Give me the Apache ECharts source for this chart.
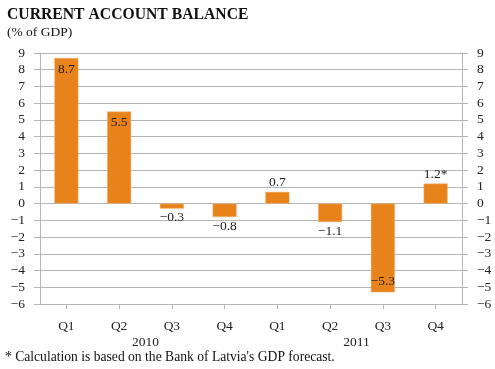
<!DOCTYPE html>
<html>
<head>
<meta charset="utf-8">
<script src="https://cdn.jsdelivr.net/npm/echarts@6/dist/echarts.min.js"></script>
<style>
  html, body { margin: 0; padding: 0; background: #fff; }
  #chart { width: 495px; height: 369px; }
</style>
</head>
<body>
<div id="chart"></div>
<script>
const quarters = ['Q1', 'Q2', 'Q3', 'Q4', 'Q1', 'Q2', 'Q3', 'Q4']
const years = ['2010', '2011']
const balance = [8.7, 5.5, -0.3, -0.8, 0.7, -1.1, -5.3, 1.2]
const labelTexts = ['8.7', '5.5', '−0.3', '−0.8', '0.7', '−1.1', '−5.3', '1.2*']
const labelInside = [true, true, false, false, false, false, true, false]

const FONT = 'Liberation Serif'
const GRID_COLOR = '#b5b5b5'
const BAR_COLOR = '#e8831c'

const chart = echarts.init(document.getElementById('chart'))

const yAxisBase = {
  type: 'value',
  min: -6,
  max: 9,
  interval: 1,
  axisLine: { show: true, lineStyle: { color: GRID_COLOR } },
  axisTick: { show: true, length: 6, lineStyle: { color: GRID_COLOR } },
  axisLabel: {
    color: '#222',
    fontFamily: FONT,
    fontSize: 13.5,
    margin: 15,
    formatter: (v) => String(v).replace('-', '−'),
  },
  splitLine: { show: true, lineStyle: { color: GRID_COLOR } },
}

chart.setOption({
  animation: false,
  textStyle: { fontFamily: FONT },
  title: [
    {
      text: 'CURRENT ACCOUNT BALANCE',
      left: 2,
      top: 2,
      textStyle: { fontFamily: FONT, fontSize: 15.7, fontWeight: 'bold', color: '#111' },
    },
    {
      text: '(% of GDP)',
      left: 2,
      top: 20,
      textStyle: { fontFamily: FONT, fontSize: 13.5, fontWeight: 'normal', color: '#111' },
    },
    {
      text: "* Calculation is based on the Bank of Latvia's GDP forecast.",
      left: 0,
      top: 345,
      textStyle: { fontFamily: FONT, fontSize: 13.6, fontWeight: 'normal', color: '#111' },
    },
  ],
  grid: { left: 40, right: 33, top: 53, bottom: 65 },
  xAxis: [
    {
      type: 'category',
      data: quarters,
      position: 'bottom',
      axisLine: { show: true, onZero: false, lineStyle: { color: GRID_COLOR } },
      axisTick: { show: true, alignWithLabel: true, length: 5, lineStyle: { color: GRID_COLOR } },
      axisLabel: { color: '#222', fontFamily: FONT, fontSize: 13.5, margin: 15 },
    },
    {
      type: 'category',
      data: years,
      position: 'bottom',
      offset: 16,
      axisLine: { show: false },
      axisTick: { show: false },
      axisLabel: { color: '#222', fontFamily: FONT, fontSize: 13.5, margin: 15 },
    },
  ],
  yAxis: [
    Object.assign({}, yAxisBase, { position: 'left' }),
    Object.assign({}, yAxisBase, { position: 'right', splitLine: { show: false } }),
  ],
  series: [
    {
      type: 'bar',
      xAxisIndex: 0,
      yAxisIndex: 0,
      barWidth: 24,
      itemStyle: { color: BAR_COLOR, borderColor: '#f2b070', borderWidth: 0.5 },
      data: balance.map((v, i) => ({
        value: v,
        label: {
          show: true,
          position: labelInside[i] ? (v >= 0 ? 'insideTop' : 'insideBottom') : (v >= 0 ? 'top' : 'bottom'),
          distance: labelInside[i] ? 4 : 2,
          formatter: labelTexts[i],
          color: '#222',
          fontFamily: FONT,
          fontSize: 13.5,
        },
      })),
    },
  ],
})
</script>
</body>
</html>
